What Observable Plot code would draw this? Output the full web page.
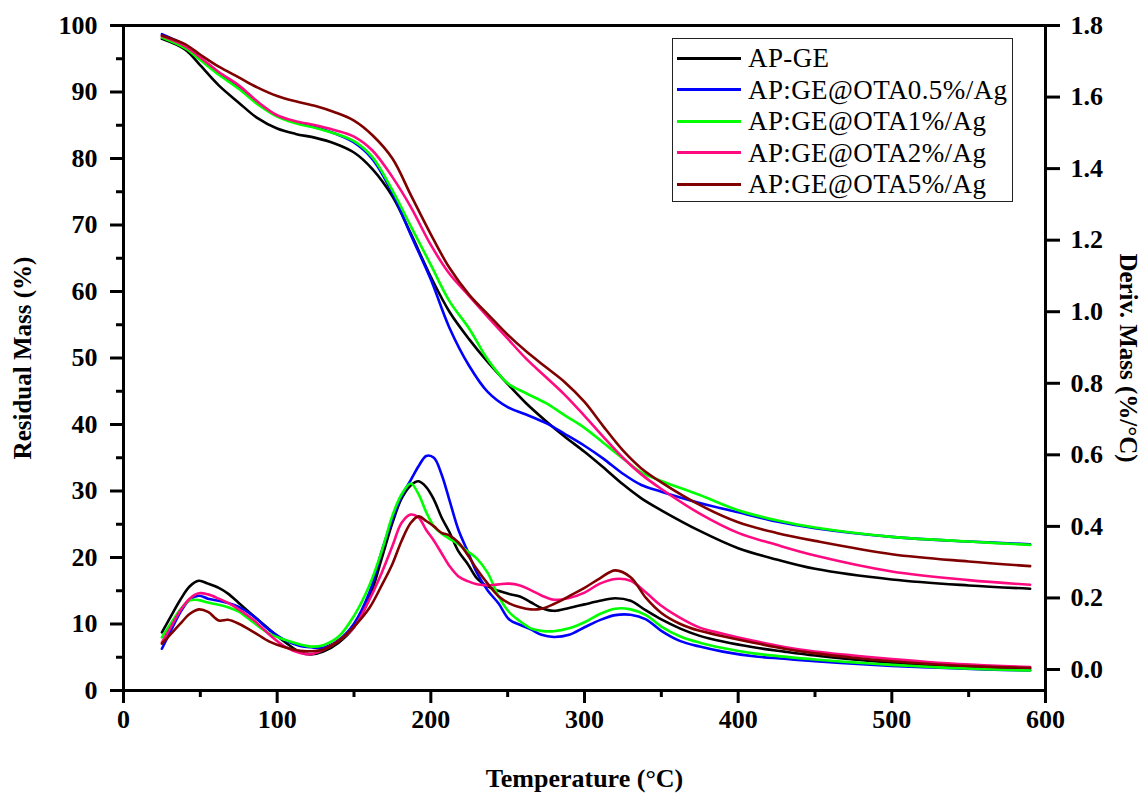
<!DOCTYPE html>
<html><head><meta charset="utf-8">
<script src="https://cdn.jsdelivr.net/npm/d3@7"></script>
<script src="https://cdn.jsdelivr.net/npm/@observablehq/plot@0.6"></script>
<style>
body{margin:0;background:#fff;}
#wrap{position:relative;width:1145px;height:794px;font-family:"Liberation Serif","Times New Roman",serif;}
#legend{position:absolute;left:672px;top:38px;width:339px;height:162px;border:1.5px solid #222;background:#fff;}
.row{position:absolute;left:0;height:0;}
.row .ln{position:absolute;left:4px;width:64px;height:3px;top:-1.5px;}
.row .tx{position:absolute;left:75px;top:-16px;font-size:27px;letter-spacing:0.4px;line-height:32px;white-space:nowrap;color:#000;}
</style></head>
<body><div id="wrap"><div id="chart"></div><div id="legend"></div></div>
<script>
// ---- data ----
const seriesNames = ["AP-GE", "AP:GE@OTA0.5%/Ag", "AP:GE@OTA1%/Ag", "AP:GE@OTA2%/Ag", "AP:GE@OTA5%/Ag"];
const seriesColors = ["#000000", "#0000ff", "#00ff00", "#ff0a80", "#800000"];

// Residual mass (%) vs temperature (°C)
const tgaTemps = [25, 40, 50, 62, 75, 87, 100, 112, 125, 137, 150, 162, 175, 187, 200, 212, 225, 237, 250, 262, 275, 287, 300, 312, 325, 337, 350, 375, 400, 425, 450, 500, 550, 590];
const tgaAPGE  = [98.0, 96.4, 94.0, 91.0, 88.4, 86.1, 84.5, 83.7, 83.1, 82.3, 80.9, 78.4, 74.3, 68.7, 62.2, 57.0, 52.8, 49.4, 46.1, 43.2, 40.5, 38.2, 35.9, 33.6, 31.0, 28.9, 27.1, 24.0, 21.4, 19.7, 18.3, 16.7, 15.8, 15.3];
const tgaOTA05 = [98.7, 97.0, 95.0, 92.8, 90.7, 88.4, 86.4, 85.4, 84.7, 83.8, 82.4, 79.9, 74.8, 68.5, 61.8, 54.6, 48.8, 44.9, 42.6, 41.5, 40.2, 38.6, 36.8, 34.9, 32.6, 30.9, 29.9, 28.2, 26.8, 25.4, 24.4, 23.1, 22.4, 22.0];
const tgaOTA1  = [98.2, 96.6, 94.8, 92.6, 90.5, 88.2, 86.3, 85.3, 84.6, 83.8, 82.6, 80.2, 75.2, 69.8, 64.0, 58.6, 54.4, 49.8, 46.2, 44.7, 43.2, 41.4, 39.5, 37.3, 34.9, 32.8, 31.5, 29.4, 27.1, 25.6, 24.5, 23.1, 22.4, 21.9];
const tgaOTA2  = [98.4, 96.9, 95.2, 93.0, 91.0, 88.6, 86.5, 85.6, 85.0, 84.3, 83.3, 81.2, 77.2, 72.7, 67.0, 62.7, 59.3, 56.2, 52.9, 49.9, 47.1, 44.5, 41.3, 38.2, 35.0, 32.5, 30.3, 26.6, 23.7, 21.9, 20.3, 17.9, 16.6, 15.9];
const tgaOTA5  = [98.5, 97.2, 95.6, 93.8, 92.2, 90.7, 89.4, 88.6, 87.9, 87.0, 85.7, 83.5, 80.0, 74.5, 68.6, 63.6, 59.5, 56.6, 53.5, 51.0, 48.6, 46.4, 43.4, 39.8, 36.1, 33.4, 31.3, 27.9, 25.3, 23.7, 22.5, 20.5, 19.4, 18.7];

// Derivative mass (%/°C) vs temperature (°C)
const dtgTemps = [25, 31, 37, 43, 49, 55, 62, 68, 75, 85, 95, 105, 115, 122, 130, 140, 150, 160, 168, 175, 181, 187, 192, 197, 202, 207, 212, 218, 224, 230, 237, 244, 251, 258, 265, 272, 280, 290, 300, 310, 320, 330, 340, 350, 362, 375, 390, 410, 430, 450, 475, 500, 530, 560, 590];
const dtgAPGE  = [0.104, 0.15, 0.195, 0.232, 0.248, 0.24, 0.228, 0.212, 0.186, 0.148, 0.112, 0.077, 0.048, 0.042, 0.05, 0.075, 0.118, 0.2, 0.31, 0.41, 0.478, 0.515, 0.526, 0.51, 0.475, 0.425, 0.385, 0.33, 0.295, 0.255, 0.232, 0.22, 0.211, 0.204, 0.188, 0.172, 0.164, 0.172, 0.182, 0.192, 0.199, 0.192, 0.165, 0.14, 0.115, 0.094, 0.078, 0.062, 0.05, 0.039, 0.028, 0.019, 0.011, 0.006, 0.002];
const dtgOTA05 = [0.058, 0.11, 0.16, 0.195, 0.206, 0.198, 0.192, 0.186, 0.175, 0.148, 0.11, 0.082, 0.066, 0.062, 0.061, 0.082, 0.128, 0.215, 0.33, 0.42, 0.485, 0.53, 0.568, 0.597, 0.592, 0.545, 0.475, 0.39, 0.33, 0.27, 0.221, 0.185, 0.14, 0.125, 0.112, 0.097, 0.091, 0.097, 0.118, 0.138, 0.152, 0.153, 0.14, 0.108, 0.08, 0.064, 0.05, 0.037, 0.03, 0.023, 0.016, 0.01, 0.005, 0.0, -0.003];
const dtgOTA1  = [0.09, 0.13, 0.168, 0.193, 0.194, 0.187, 0.181, 0.174, 0.162, 0.13, 0.1, 0.083, 0.07, 0.064, 0.068, 0.092, 0.15, 0.235, 0.33, 0.43, 0.49, 0.52, 0.49, 0.44, 0.4, 0.38, 0.366, 0.35, 0.33, 0.31, 0.27, 0.205, 0.16, 0.135, 0.115, 0.108, 0.107, 0.115, 0.132, 0.155, 0.17, 0.168, 0.152, 0.12, 0.093, 0.075, 0.06, 0.045, 0.036, 0.028, 0.02, 0.013, 0.006, 0.001, -0.003];
const dtgOTA2  = [0.076, 0.12, 0.165, 0.198, 0.213, 0.21, 0.198, 0.186, 0.168, 0.137, 0.097, 0.064, 0.046, 0.043, 0.055, 0.08, 0.118, 0.195, 0.27, 0.345, 0.41, 0.433, 0.425, 0.39, 0.36, 0.325, 0.29, 0.26, 0.247, 0.238, 0.235, 0.238, 0.24, 0.235, 0.222, 0.207, 0.195, 0.2, 0.215, 0.24, 0.253, 0.248, 0.215, 0.178, 0.145, 0.117, 0.1, 0.08, 0.063, 0.05, 0.039, 0.029, 0.019, 0.012, 0.007];
const dtgOTA5  = [0.072, 0.1, 0.128, 0.155, 0.168, 0.161, 0.137, 0.139, 0.128, 0.104, 0.078, 0.062, 0.052, 0.051, 0.056, 0.08, 0.12, 0.172, 0.235, 0.295, 0.36, 0.41, 0.428, 0.415, 0.4, 0.382, 0.375, 0.355, 0.32, 0.28, 0.24, 0.205, 0.185, 0.174, 0.168, 0.17, 0.183, 0.205, 0.228, 0.255, 0.277, 0.258, 0.2, 0.158, 0.128, 0.108, 0.093, 0.075, 0.058, 0.045, 0.033, 0.023, 0.014, 0.008, 0.005];

// axis ticks
const xMajor = [0, 100, 200, 300, 400, 500, 600];
const xMinor = [50, 150, 250, 350, 450, 550];
const yMajor = [0, 10, 20, 30, 40, 50, 60, 70, 80, 90, 100];
const yMinor = [5, 15, 25, 35, 45, 55, 65, 75, 85, 95];
const rightTicks = [0.0, 0.2, 0.4, 0.6, 0.8, 1.0, 1.2, 1.4, 1.6, 1.8];
const rightDomain = [-0.0587, 1.8];

// ---- build ----
const tgaSets = [tgaAPGE, tgaOTA05, tgaOTA1, tgaOTA2, tgaOTA5];
const dtgSets = [dtgAPGE, dtgOTA05, dtgOTA1, dtgOTA2, dtgOTA5];
const toLeft = d => (d - rightDomain[0]) / (rightDomain[1] - rightDomain[0]) * 100;
const fromLeft = v => v / 100 * (rightDomain[1] - rightDomain[0]) + rightDomain[0];

const font = "Liberation Serif";
const marks = [];
seriesNames.forEach((name, k) => {
  const tga = tgaTemps.map((t, i) => ({t, v: tgaSets[k][i]}));
  marks.push(Plot.line(tga, {x: "t", y: "v", stroke: seriesColors[k], strokeWidth: 2.6, curve: "catmull-rom"}));
});
seriesNames.forEach((name, k) => {
  const dtg = dtgTemps.map((t, i) => ({t, v: toLeft(dtgSets[k][i])}));
  marks.push(Plot.line(dtg, {x: "t", y: "v", stroke: seriesColors[k], strokeWidth: 2.6, curve: "catmull-rom"}));
});

const chart = Plot.plot({
  width: 1145,
  height: 794,
  marginLeft: 123,
  marginRight: 100,
  marginTop: 25,
  marginBottom: 104,
  style: {fontFamily: font, fontWeight: "bold", background: "#fff", overflow: "visible"},
  x: {domain: [0, 600]},
  y: {domain: [0, 100]},
  marks: [
    ...marks,
    Plot.frame({stroke: "#000", strokeWidth: 3}),
    Plot.axisX({ticks: xMajor, tickSize: 13, tickPadding: 6, strokeWidth: 3, fontSize: 26, fontWeight: "bold", fill: "#000", label: null, tickFormat: d => String(d)}),
    Plot.axisX({ticks: xMinor, tickSize: 7, strokeWidth: 3, tickFormat: () => "", label: null}),
    Plot.axisY({anchor: "left", ticks: yMajor, tickSize: 13, tickPadding: 13, strokeWidth: 3, fontSize: 26, fontWeight: "bold", fill: "#000", label: null, tickFormat: d => String(d)}),
    Plot.axisY({anchor: "left", ticks: yMinor, tickSize: 7, strokeWidth: 3, tickFormat: () => "", label: null}),
    Plot.axisY({anchor: "right", ticks: rightTicks.map(toLeft), tickSize: 14, tickPadding: 11, strokeWidth: 3, fontSize: 26, fontWeight: "bold", fill: "#000", label: null,
      tickFormat: v => { const d = Math.round(fromLeft(v) * 10) / 10; return (d === 0 ? 0 : d).toFixed(1); }}),
    Plot.text(["Residual Mass (%)"], {frameAnchor: "left", dx: -101, rotate: -90, textAnchor: "middle", lineAnchor: "middle", fontSize: 25, fontWeight: "bold", fill: "#000"}),
    Plot.text(["Deriv. Mass (%/°C)"], {frameAnchor: "right", dx: 82, rotate: 90, textAnchor: "middle", lineAnchor: "middle", fontSize: 25, fontWeight: "bold", fill: "#000"}),
    Plot.text(["Temperature (°C)"], {frameAnchor: "bottom", dy: 88, textAnchor: "middle", lineAnchor: "middle", fontSize: 26, fontWeight: "bold", fill: "#000"})
  ]
});
document.getElementById("chart").appendChild(chart);

// legend
const legend = document.getElementById("legend");
seriesNames.forEach((name, k) => {
  const row = document.createElement("div");
  row.className = "row";
  row.style.top = (19 + k * 31.5) + "px";
  const ln = document.createElement("div");
  ln.className = "ln";
  ln.style.background = seriesColors[k];
  const tx = document.createElement("div");
  tx.className = "tx";
  tx.textContent = name;
  row.appendChild(ln);
  row.appendChild(tx);
  legend.appendChild(row);
});
</script>
</body></html>
